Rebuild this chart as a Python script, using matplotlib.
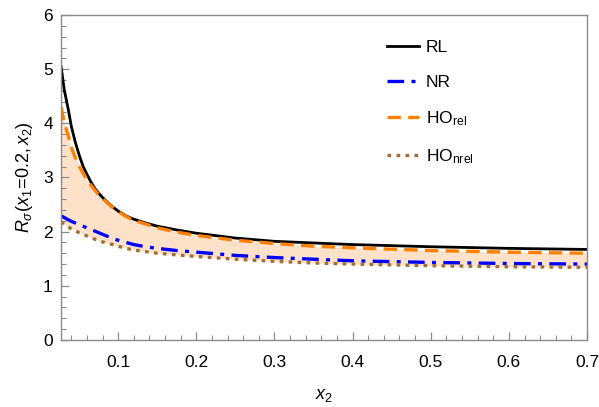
#!/usr/bin/env python
# -*- coding: utf-8 -*-

import matplotlib
matplotlib.use('Agg')
import matplotlib.pyplot as plt
from matplotlib.ticker import MultipleLocator

#
# DATA
#

x2 = [0.027, 0.031, 0.036, 0.040, 0.045, 0.050, 0.055, 0.060, 0.065, 0.070, 0.075,
      0.08, 0.09, 0.1, 0.11, 0.12, 0.135, 0.15, 0.175, 0.2, 0.25, 0.3, 0.35,
      0.4, 0.5, 0.6, 0.7]

rl = [5.05, 4.62, 4.27, 3.95, 3.66, 3.42, 3.21, 3.06, 2.92, 2.80, 2.71,
      2.63, 2.49, 2.38, 2.29, 2.23, 2.16, 2.10, 2.03, 1.97, 1.88, 1.82, 1.79,
      1.76, 1.72, 1.69, 1.67]
nr = [2.29, 2.26, 2.22, 2.19, 2.16, 2.13, 2.10, 2.07, 2.04, 2.01, 1.98,
      1.95, 1.89, 1.84, 1.80, 1.76, 1.72, 1.69, 1.65, 1.62, 1.56, 1.52, 1.49,
      1.46, 1.43, 1.41, 1.40]
ho_rel = [4.30, 4.02, 3.78, 3.56, 3.37, 3.21, 3.08, 2.96, 2.86, 2.77, 2.68,
          2.61, 2.48, 2.37, 2.28, 2.21, 2.14, 2.07, 1.99, 1.93, 1.84, 1.78, 1.73,
          1.70, 1.65, 1.62, 1.60]
ho_nrel = [2.18, 2.13, 2.09, 2.05, 2.02, 1.98, 1.95, 1.92, 1.89, 1.86, 1.84,
           1.81, 1.77, 1.73, 1.69, 1.66, 1.63, 1.60, 1.57, 1.54, 1.49, 1.45, 1.42,
           1.40, 1.37, 1.35, 1.34]

labels = ['RL', 'NR', r'HO$_{\mathrm{rel}}$', r'HO$_{\mathrm{nrel}}$']

#
# STYLE
#

plt.rcParams['font.family'] = ['Liberation Sans', 'DejaVu Sans']
plt.rcParams['mathtext.fontset'] = 'custom'
plt.rcParams['mathtext.rm'] = 'Liberation Sans'
plt.rcParams['mathtext.it'] = 'Liberation Sans:italic'
plt.rcParams['mathtext.bf'] = 'Liberation Sans:bold'

frame_grey = '#8c8c8c'

fig = plt.figure(figsize=(5.99, 4.07), dpi=100)
ax = fig.add_axes([0.102, 0.165, 0.878, 0.798])

ax.fill_between(x2, ho_nrel, ho_rel, color='#fde1c8', lw=0)

ax.plot(x2, rl, color='black', lw=2.0, label=labels[0])
ax.plot(x2, nr, color='#0000ff', lw=2.4, dashes=(5, 2.2, 1.2, 2.2), label=labels[1])
ax.plot(x2, ho_rel, color='#ff8000', lw=2.4, dashes=(4, 2.2), label=labels[2])
ax.plot(x2, ho_nrel, color='#a0703a', lw=2.4, dashes=(1.1, 1.6), label=labels[3])

ax.set_xlim(0.027, 0.7)
ax.set_ylim(0, 6)

ax.xaxis.set_major_locator(MultipleLocator(0.1))
ax.xaxis.set_minor_locator(MultipleLocator(0.02))
ax.yaxis.set_major_locator(MultipleLocator(1))
ax.yaxis.set_minor_locator(MultipleLocator(0.2))

for s in ax.spines.values():
    s.set_color(frame_grey)
    s.set_linewidth(1.0)

ax.tick_params(which='both', direction='in', color=frame_grey, labelsize=12.5)
ax.tick_params(which='major', length=6, width=0.9, pad=6)
ax.tick_params(which='minor', length=3.5, width=0.8)
ax.tick_params(axis='x', which='major', pad=11)

ax.set_xlabel(r'$x_2$', fontsize=13, labelpad=12)
ax.set_ylabel(r'$R_{\sigma}(x_1\!=\!0.2,x_2)$', fontsize=13, labelpad=6)

ax.legend(loc='upper left', bbox_to_anchor=(0.604, 0.95), frameon=False, fontsize=12.5,
          handlelength=1.8, handletextpad=0.4, labelspacing=1.12, borderpad=0)

fig.savefig('out.png', dpi=100)
